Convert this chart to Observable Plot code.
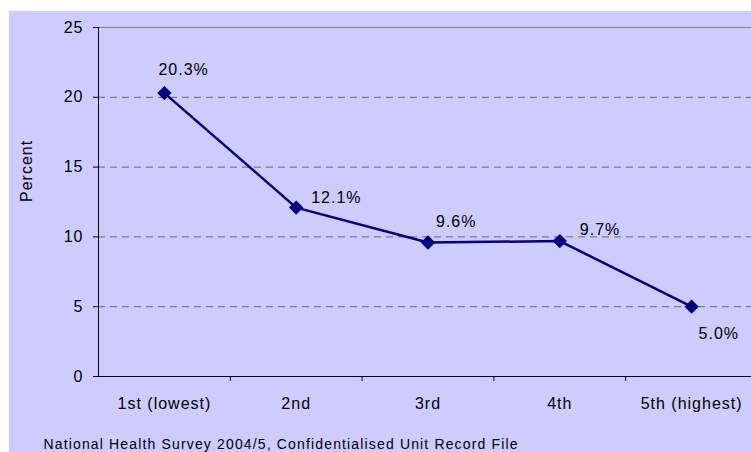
<!DOCTYPE html>
<html>
<head>
<meta charset="utf-8">
<script src="https://cdn.jsdelivr.net/npm/d3@7"></script>
<script src="https://cdn.jsdelivr.net/npm/@observablehq/plot@0.6"></script>
<style>
  html, body { margin: 0; padding: 0; background: #fff; overflow: hidden; }
  #wrap { width: 751px; height: 452px; box-sizing: border-box; padding: 11px 0 0 9px; background: #fff; overflow: hidden; }
  #wrap svg text { letter-spacing: 1px; }
  #wrap svg text.caption { letter-spacing: 1.15px; }
</style>
</head>
<body>
<div id="wrap"></div>
<script>
const categories = ["1st (lowest)", "2nd", "3rd", "4th", "5th (highest)"];
const values = [20.3, 12.1, 9.6, 9.7, 5.0];
const yTicks = [0, 5, 10, 15, 20, 25];
const gridTicks = [5, 10, 15, 20];
const yLabel = "Percent";
const caption = "National Health Survey 2004/5, Confidentialised Unit Record File";

// label nudges (style only): [dx, dy] relative to each point, baseline-anchored
const labelNudge = [[-6, -18], [15, -5], [8, -15], [20, -6], [7, 32]];

const data = categories.map((c, i) => ({pos: i + 1, cat: c, value: values[i]}));
const boundaries = data.slice(1).map(d => d.pos - 0.5);

const navy = "#000080";

const chart = Plot.plot({
  width: 742,
  height: 441,
  marginLeft: 89,
  marginTop: 16,
  marginBottom: 76,
  marginRight: 0,
  x: {domain: [0.5, categories.length + 0.5], range: [89, 748]},
  y: {domain: [0, 25]},
  style: {background: "#CCCCFF", fontFamily: "'Liberation Sans', Arial, sans-serif", fontSize: "16px", color: "#000", overflow: "visible"},
  marks: [
    Plot.gridY(gridTicks, {stroke: "#666", strokeOpacity: 1, strokeDasharray: "7,5"}),
    Plot.ruleY([25], {stroke: "#808080", strokeWidth: 1.2}),
    Plot.ruleY([0], {stroke: "#000"}),
    Plot.ruleX([0.5], {stroke: "#000"}),
    Plot.axisY(yTicks, {tickSize: 5, tickPadding: 10, label: null, fontSize: 16, stroke: "#000"}),
    Plot.axisX(data.map(d => d.pos), {tickSize: 0, tickPadding: 21, label: null, fontSize: 16, tickFormat: p => categories[p - 1]}),
    Plot.axisX(boundaries, {tickSize: 5, label: null, tickFormat: () => "", stroke: "#000"}),
    Plot.text([yLabel], {text: d => d, frameAnchor: "left", rotate: -90, dx: -72, fontSize: 16}),
    Plot.line(data, {x: "pos", y: "value", stroke: navy, strokeWidth: 2.5}),
    Plot.dot(data, {x: "pos", y: "value", symbol: "diamond2", r: 5.5, fill: navy, stroke: navy}),
    ...labelNudge.map(([dx, dy], i) =>
      Plot.text([data[i]], {x: "pos", y: "value", text: d => d.value.toFixed(1) + "%", textAnchor: "start", lineAnchor: "bottom", dx, dy, fontSize: 16, fill: "#000"})
    ),
    Plot.text([caption], {text: d => d, frameAnchor: "bottom-left", textAnchor: "start", lineAnchor: "bottom", dx: -55, dy: 72, fontSize: 14, fill: "#000", className: "caption"})
  ]
});
// tag the caption text for its spacing
chart.querySelectorAll("text").forEach(t => { if (t.textContent === caption) t.classList.add("caption"); });
document.getElementById("wrap").appendChild(chart);
</script>
</body>
</html>
